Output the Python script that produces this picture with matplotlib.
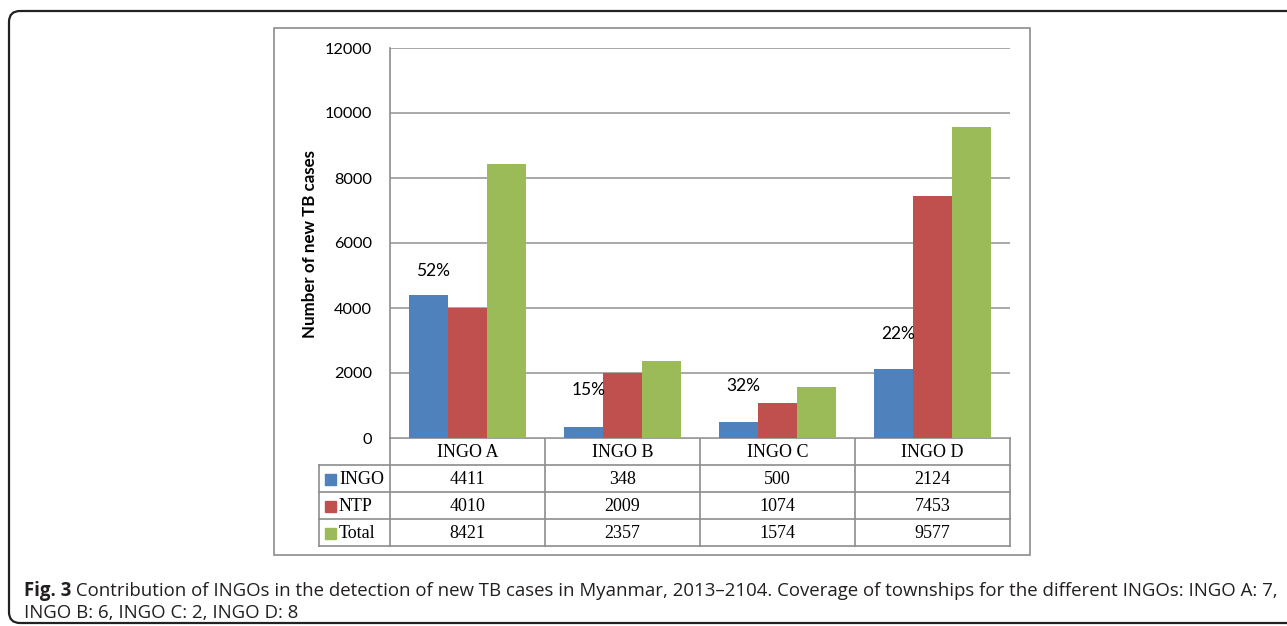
import matplotlib.pyplot as plt
from matplotlib.patches import FancyBboxPatch, Rectangle
import numpy as np

categories = ['INGO A', 'INGO B', 'INGO C', 'INGO D']
series_names = ['INGO', 'NTP', 'Total']
ingo = [4411, 348, 500, 2124]
ntp = [4010, 2009, 1074, 7453]
total = [8421, 2357, 1574, 9577]
share_labels = ['52%', '15%', '32%', '22%']
share_label_y = [5150, 1480, 1610, 3200]
yticks = [0, 2000, 4000, 6000, 8000, 10000, 12000]

colors = ['#4F81BD', '#C0504D', '#9BBB59']
GRID = '#9a9a9a'
EDGE = '#8c8c8c'

W, H = 1287, 626
fig = plt.figure(figsize=(W / 100, H / 100), dpi=100)

# overlay in pixel coordinates for frames, table and caption
ov = fig.add_axes([0, 0, 1, 1])
ov.set_xlim(0, W)
ov.set_ylim(H, 0)
ov.axis('off')

ov.add_patch(FancyBboxPatch((9, 11), 1300, 612, boxstyle='round,pad=0,rounding_size=11',
                            fill=False, ec='#222222', lw=1.6))
ov.add_patch(Rectangle((274, 28), 756, 527, fill=False, ec=EDGE, lw=1.2))

# bar chart area
px0, px1, py0, py1 = 390, 1010, 48, 438
ax = fig.add_axes([px0 / W, (H - py1) / H, (px1 - px0) / W, (py1 - py0) / H])
x = np.arange(len(categories))
width = 0.25
for i, vals in enumerate([ingo, ntp, total]):
    ax.bar(x + (i - 1) * width, vals, width, color=colors[i], zorder=3)
for xi, lab, yv in zip(x, share_labels, share_label_y):
    ax.text(xi - 0.22, yv, lab, ha='center', va='center', fontsize=12.5,
            family='Lato', zorder=4)
ax.set_xlim(-0.5, len(categories) - 0.5)
ax.set_ylim(0, 12000)
ax.set_yticks(yticks)
ax.set_yticklabels([str(v) for v in yticks], family='Lato', fontsize=11.8)
ax.yaxis.grid(True, color=GRID, lw=1.2, zorder=0)
ax.set_xticks([])
ax.tick_params(axis='y', length=0, pad=13)
for s in ['top', 'right', 'bottom']:
    ax.spines[s].set_visible(False)
ax.spines['left'].set_color(EDGE)
ax.spines['left'].set_linewidth(1.2)

fig.text(310 / W, 1 - 244 / H, 'Number of new TB cases', rotation=90, ha='center',
         va='center', family='Lato', fontweight='bold', fontsize=12.2)

# data table below the axis
col_edges = np.linspace(px0, px1, len(categories) + 1)
row_edges = [438, 465, 492, 519, 546]
lab_x0 = 319
tkw = dict(color=EDGE, lw=1.2)
ov.plot([px0, px1], [row_edges[0]] * 2, **tkw)
for ry in row_edges[1:]:
    ov.plot([lab_x0, px1], [ry, ry], **tkw)
for cx in col_edges:
    ov.plot([cx, cx], [row_edges[0], row_edges[-1]], **tkw)
ov.plot([lab_x0, lab_x0], [row_edges[1], row_edges[-1]], **tkw)

serif = dict(family='Liberation Serif', fontsize=13, va='center', ha='center')
for j, cat in enumerate(categories):
    cx = (col_edges[j] + col_edges[j + 1]) / 2
    ov.text(cx, (row_edges[0] + row_edges[1]) / 2 + 1, cat, **serif)
for i, (name, vals) in enumerate(zip(series_names, [ingo, ntp, total])):
    cy = (row_edges[i + 1] + row_edges[i + 2]) / 2 + 1
    ov.add_patch(Rectangle((325, cy - 5.5), 11, 11, color=colors[i]))
    ov.text(339, cy, name, family='Liberation Serif', fontsize=13, va='center', ha='left')
    for j, v in enumerate(vals):
        cx = (col_edges[j] + col_edges[j + 1]) / 2
        ov.text(cx, cy, str(v), **serif)

# caption
cap1 = (' Contribution of INGOs in the detection of new TB cases in Myanmar, 2013\u20132104. '
        'Coverage of townships for the different INGOs: INGO A: 7,')
cap2 = 'INGO B: 6, INGO C: 2, INGO D: 8'
fs = 13.4
r = fig.canvas.get_renderer()
t0 = ov.text(24, 596, 'Fig. 3', family='Open Sans', fontweight='bold', fontsize=fs,
             va='baseline', color='#231f20')
bb = t0.get_window_extent(r)
ov.text(24 + bb.width, 596, cap1, family='Open Sans', fontsize=fs, va='baseline', color='#231f20')
ov.text(24, 618, cap2, family='Open Sans', fontsize=fs, va='baseline', color='#231f20')

fig.savefig('out.png', dpi=100)
